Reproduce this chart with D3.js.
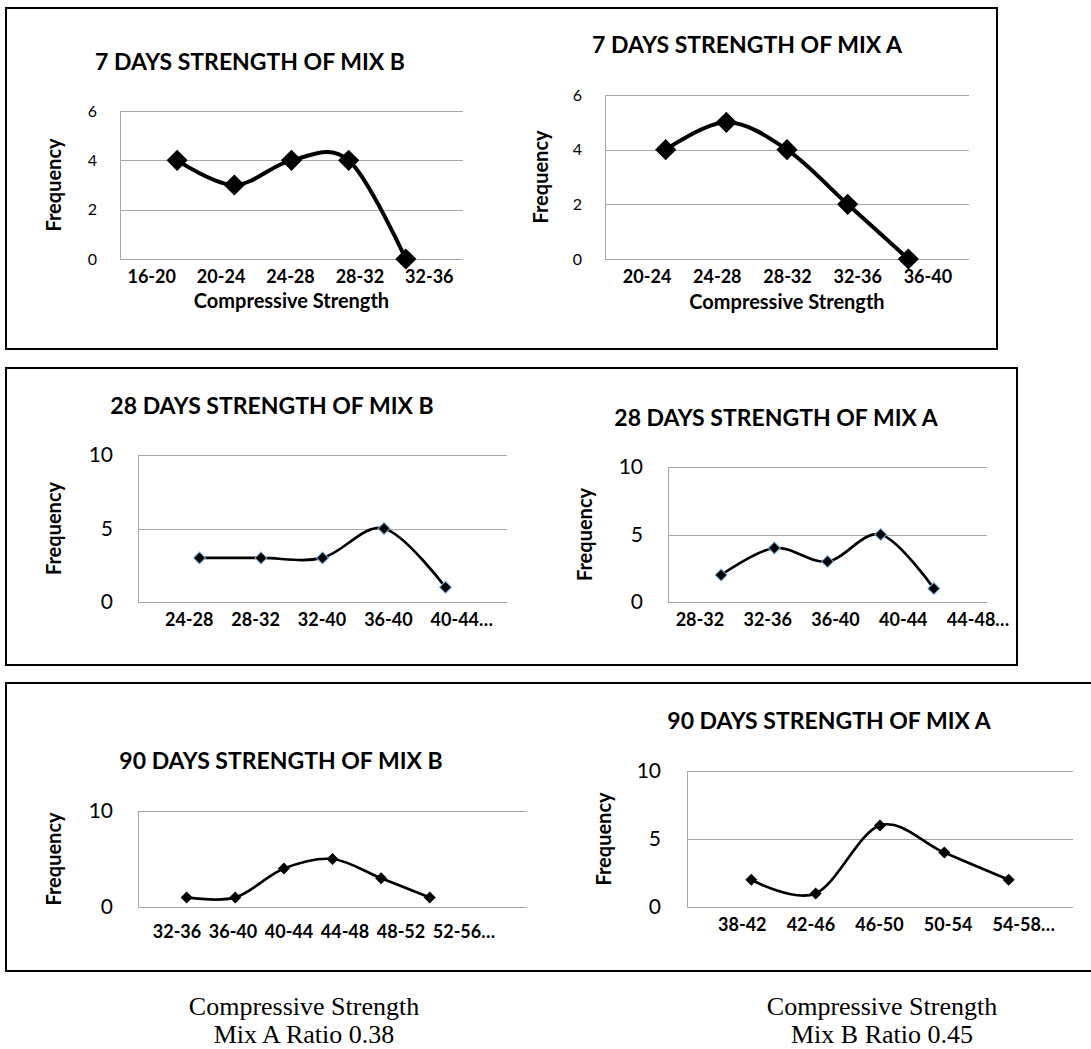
<!DOCTYPE html>
<head>
  <meta charset="utf-8">
  <script src="https://d3js.org/d3.v7.min.js"></script>
  <style>
    body { margin:0; background:#fff; }
    text { font-family: Lato, "Open Sans", sans-serif; fill:#000; }
    .grid line { stroke:#a6a6a6; stroke-width:1px; shape-rendering:crispEdges; }
    .curve { fill:none; stroke:#000; stroke-linejoin:round; }
    .frame { fill:none; stroke:#000; stroke-width:2px; }
  </style>
</head>
<body>
<script>
// category labels and frequencies
var cats7B  = ["16-20", "20-24", "24-28", "28-32", "32-36"];
var freq7B  = [4, 3, 4, 4, 0];
var cats7A  = ["20-24", "24-28", "28-32", "32-36", "36-40"];
var freq7A  = [4, 5, 4, 2, 0];
var cats28B = ["24-28", "28-32", "32-40", "36-40", "40-44\u2026"];
var freq28B = [3, 3, 3, 5, 1];
var cats28A = ["28-32", "32-36", "36-40", "40-44", "44-48\u2026"];
var freq28A = [2, 4, 3, 5, 1];
var cats90B = ["32-36", "36-40", "40-44", "44-48", "48-52", "52-56\u2026"];
var freq90B = [1, 1, 4, 5, 3, 1];
var cats90A = ["38-42", "42-46", "46-50", "50-54", "54-58\u2026"];
var freq90A = [2, 1, 6, 4, 2];

var ticks6  = [0, 2, 4, 6];
var ticks10 = [0, 5, 10];
var ticks10b = [0, 10];

var svg = d3.select("body").append("svg")
  .attr("width", 1091)
  .attr("height", 1049);

// frames around each row
svg.append("rect").attr("class", "frame").attr("x", 6).attr("y", 8).attr("width", 991).attr("height", 341);
svg.append("rect").attr("class", "frame").attr("x", 6).attr("y", 368).attr("width", 1011).attr("height", 297);
svg.append("rect").attr("class", "frame").attr("x", 6).attr("y", 683).attr("width", 1100).attr("height", 288);

function drawChart(o) {
  var g = svg.append("g");
  var x = d3.scaleLinear().domain([0, o.values.length + (o.values.length > 5 ? 2 : 1)]).range([o.left, o.right]);
  var y = d3.scaleLinear().domain([0, o.ticks[o.ticks.length - 1]]).range([o.bottom, o.top]);
  var xl = d3.scaleBand().domain(o.cats).range(o.labelRange);

  // gridlines
  g.append("g").attr("class", "grid")
    .attr("transform", "translate(" + o.left + ",0)")
    .call(d3.axisLeft(y).tickValues(o.ticks).tickSize(-(o.right - o.left)).tickFormat(""))
    .call(function(a) { a.select(".domain").remove(); });
  g.append("line")
    .attr("x1", o.left).attr("x2", o.left)
    .attr("y1", y.range()[1]).attr("y2", y.range()[0])
    .attr("stroke", "#a6a6a6").attr("shape-rendering", "crispEdges");

  // y tick labels
  g.append("g")
    .attr("transform", "translate(" + o.tickX + ",0)")
    .call(d3.axisLeft(y).tickValues(o.ticks).tickFormat(d3.format("d")).tickSize(0).tickPadding(0))
    .call(function(a) {
      a.select(".domain").remove();
      a.selectAll("text").style("font-size", o.tickFont + "px");
    });

  // x category labels (a cut-off label is centred on its visible part)
  g.append("g")
    .attr("transform", "translate(0," + o.labelY + ")")
    .call(d3.axisBottom(xl).tickSize(0).tickPadding(0))
    .call(function(a) {
      a.select(".domain").remove();
      a.selectAll("text").attr("y", 0).attr("dy", 0)
        .style("font-size", "18px").style("font-weight", "bold")
        .each(function(d) {
          if (d.indexOf("\u2026") > -1) {
            var full = this.getComputedTextLength();
            var t = this.textContent;
            this.textContent = t.replace("\u2026", "");
            var part = this.getComputedTextLength();
            this.textContent = t;
            d3.select(this).attr("dx", (full - part) / 2);
          }
        });
    });

  // titles
  g.append("text")
    .attr("x", o.titleX).attr("y", o.titleY)
    .attr("text-anchor", "middle")
    .style("font-size", "23px").style("font-weight", "bold")
    .text(o.title);

  g.append("text")
    .attr("transform", "translate(" + o.freqX + "," + (o.top + o.bottom) / 2 + ") rotate(-90)")
    .attr("dy", "0.35em")
    .attr("text-anchor", "middle")
    .style("font-size", "20px").style("font-weight", "bold")
    .text("Frequency");

  if (o.xTitle) {
    g.append("text")
      .attr("x", (o.left + o.right) / 2).attr("y", o.xTitleY)
      .attr("text-anchor", "middle")
      .style("font-size", "20px").style("font-weight", "bold")
      .text(o.xTitle);
  }

  // smoothed line
  var line = d3.line()
    .x(function(d, i) { return x(i + 1); })
    .y(function(d) { return y(d); })
    .curve(d3.curveCardinal.tension(0));
  g.append("path").datum(o.values)
    .attr("class", "curve")
    .attr("stroke-width", o.lineW)
    .attr("d", line);

  // diamond markers
  var sym = d3.symbol().type(d3.symbolSquare).size(o.markSide * o.markSide);
  g.selectAll(".mark").data(o.values).enter()
    .append("path")
    .attr("class", "mark")
    .attr("transform", function(d, i) { return "translate(" + x(i + 1) + "," + y(d) + ") rotate(45)"; })
    .attr("d", sym)
    .attr("fill", "#000")
    .attr("stroke", o.markStroke || "none")
    .attr("stroke-width", 1);
}

drawChart({ title: "7 DAYS STRENGTH OF MIX B", cats: cats7B, values: freq7B, ticks: ticks6,
  left: 120, right: 463, top: 111, bottom: 259, tickX: 97, tickFont: 16, freqX: 54,
  titleX: 250, titleY: 70, labelY: 283, labelRange: [117, 464],
  xTitle: "Compressive Strength", xTitleY: 308, lineW: 4, markSide: 15 });

drawChart({ title: "7 DAYS STRENGTH OF MIX A", cats: cats7A, values: freq7A, ticks: ticks6,
  left: 605, right: 969, top: 95, bottom: 259, tickX: 582, tickFont: 16, freqX: 541,
  titleX: 747, titleY: 53, labelY: 283, labelRange: [612, 963],
  xTitle: "Compressive Strength", xTitleY: 309, lineW: 4, markSide: 15 });

drawChart({ title: "28 DAYS STRENGTH OF MIX B", cats: cats28B, values: freq28B, ticks: ticks10,
  left: 138, right: 507, top: 455, bottom: 602, tickX: 113, tickFont: 21, freqX: 54,
  titleX: 272, titleY: 414, labelY: 626, labelRange: [156, 488],
  lineW: 2.7, markSide: 8.5, markStroke: "#7fb2e5" });

drawChart({ title: "28 DAYS STRENGTH OF MIX A", cats: cats28A, values: freq28A, ticks: ticks10,
  left: 668, right: 987, top: 467, bottom: 602, tickX: 643, tickFont: 21, freqX: 585,
  titleX: 776, titleY: 426, labelY: 626, labelRange: [666, 1005],
  lineW: 2.7, markSide: 8.5, markStroke: "#7fb2e5" });

drawChart({ title: "90 DAYS STRENGTH OF MIX B", cats: cats90B, values: freq90B, ticks: ticks10b,
  left: 138, right: 527, top: 811, bottom: 907, tickX: 113, tickFont: 21, freqX: 54,
  titleX: 281, titleY: 769, labelY: 938, labelRange: [149, 485],
  lineW: 2.7, markSide: 8.5 });

drawChart({ title: "90 DAYS STRENGTH OF MIX A", cats: cats90A, values: freq90A, ticks: ticks10,
  left: 687, right: 1073, top: 771, bottom: 907, tickX: 661, tickFont: 21, freqX: 604,
  titleX: 829, titleY: 729, labelY: 931, labelRange: [708, 1051],
  lineW: 2.7, markSide: 8.5 });

// captions under the figure
var captions = [
  { x: 304, lines: ["Compressive Strength", "Mix A Ratio 0.38"] },
  { x: 882, lines: ["Compressive Strength", "Mix B Ratio 0.45"] }
];
captions.forEach(function(c) {
  c.lines.forEach(function(t, i) {
    svg.append("text")
      .attr("x", c.x).attr("y", 1015 + i * 28)
      .attr("text-anchor", "middle")
      .style("font-family", "'Liberation Serif', 'Times New Roman', serif")
      .style("font-size", "26px")
      .text(t);
  });
});
</script>
</body>
